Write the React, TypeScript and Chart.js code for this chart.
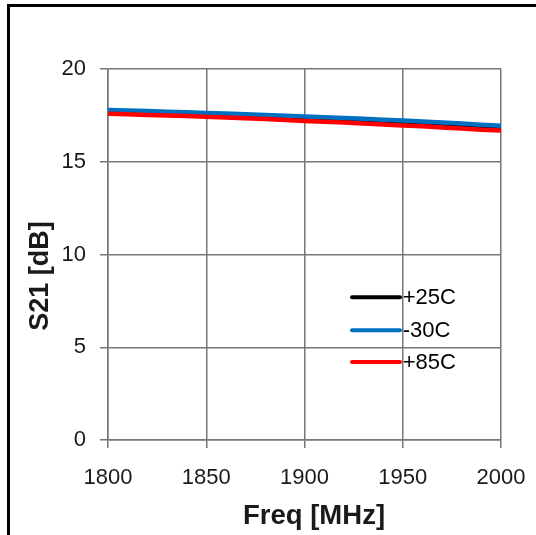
import React, { useEffect, useRef } from "react";
import { Chart, registerables } from "chart.js";

Chart.register(...registerables);

const freqs = [1800, 1810, 1820, 1830, 1840, 1850, 1860, 1870, 1880, 1890, 1900, 1910, 1920, 1930, 1940, 1950, 1960, 1970, 1980, 1990, 2000];
const s21_25C = [17.74, 17.71, 17.68, 17.65, 17.62, 17.58, 17.55, 17.51, 17.47, 17.43, 17.39, 17.36, 17.31, 17.27, 17.22, 17.17, 17.12, 17.06, 17.00, 16.94, 16.88];
const s21_m30C = [17.79, 17.76, 17.73, 17.70, 17.67, 17.63, 17.60, 17.56, 17.52, 17.48, 17.44, 17.40, 17.36, 17.32, 17.27, 17.22, 17.17, 17.11, 17.06, 17.00, 16.94];
const s21_85C = [17.59, 17.56, 17.52, 17.49, 17.46, 17.42, 17.39, 17.34, 17.30, 17.25, 17.20, 17.16, 17.11, 17.06, 17.01, 16.96, 16.91, 16.85, 16.79, 16.73, 16.68];
const seriesLabels = ["+25C", "-30C", "+85C"];
const seriesColors = ["#000000", "#0070C0", "#FF0000"];
const yTicks = [0, 5, 10, 15, 20];
const xTicks = [1800, 1850, 1900, 1950, 2000];
const xTitle = "Freq [MHz]";
const yTitle = "S21 [dB]";

const FONT = "'Liberation Sans', Arial, sans-serif";

const insideLegend = {
  id: "insideLegend",
  afterDraw(chart: any) {
    const { ctx, scales } = chart;
    const x0 = scales.x.getPixelForValue(1924.2);
    const x1 = scales.x.getPixelForValue(1948.6);
    const tx = scales.x.getPixelForValue(1950.0);
    const rows = [7.7, 5.91, 4.21];
    ctx.save();
    chart.data.datasets.forEach((ds: any, i: number) => {
      const y = scales.y.getPixelForValue(rows[i]);
      ctx.strokeStyle = ds.borderColor;
      ctx.lineWidth = 4;
      ctx.lineCap = "round";
      ctx.beginPath();
      ctx.moveTo(x0, y);
      ctx.lineTo(x1, y);
      ctx.stroke();
      ctx.fillStyle = "#000";
      ctx.font = `22px ${FONT}`;
      ctx.textBaseline = "middle";
      ctx.textAlign = "left";
      ctx.fillText(ds.label, tx, y + 1);
    });
    // axis titles
    ctx.fillStyle = "#1a1a1a";
    ctx.font = `bold 27.5px ${FONT}`;
    ctx.textAlign = "center";
    ctx.textBaseline = "alphabetic";
    ctx.fillText(xTitle, 314, 524);
    ctx.save();
    ctx.translate(40.5, 276);
    ctx.rotate(-Math.PI / 2);
    ctx.font = `bold 27px ${FONT}`;
    ctx.textBaseline = "middle";
    ctx.fillText(yTitle, 0, 0);
    ctx.restore();
    ctx.restore();
  },
};

export default function App() {
  const ref = useRef<HTMLCanvasElement | null>(null);
  useEffect(() => {
    if (!ref.current) return;
    const data = [s21_25C, s21_m30C, s21_85C];
    const chart = new Chart(ref.current, {
      type: "line",
      data: {
        datasets: data.map((vals, i) => ({
          label: seriesLabels[i],
          data: freqs.map((f, j) => ({ x: f, y: vals[j] })),
          borderColor: seriesColors[i],
          backgroundColor: seriesColors[i],
          borderWidth: 4.5,
          pointRadius: 0,
          tension: 0,
          order: 2 - i,
        })),
      },
      options: {
        animation: false,
        responsive: false,
        layout: { padding: { left: 22, right: 35, top: 69, bottom: 4 } },
        plugins: { legend: { display: false }, tooltip: { enabled: false } },
        scales: {
          x: {
            type: "linear",
            min: 1800,
            max: 2000,
            afterBuildTicks: (s: any) => { s.ticks = xTicks.map((v) => ({ value: v })); },
            afterFit: (s: any) => { s.height = 91; s.paddingLeft = 0; s.paddingRight = 0; },
            ticks: { color: "#1a1a1a", font: { size: 22, family: FONT }, padding: 17, callback: (v: any) => String(v) },
            grid: { color: "#777777", lineWidth: 1.5, tickLength: 8 },
            border: { color: "#777777", width: 1.5 },
            title: { display: false },
          },
          y: {
            min: 0,
            max: 20,
            afterBuildTicks: (s: any) => { s.ticks = yTicks.map((v) => ({ value: v })); },
            afterFit: (s: any) => { s.width = 86; s.paddingTop = 0; s.paddingBottom = 0; },
            ticks: { color: "#1a1a1a", font: { size: 22, family: FONT }, padding: 14 },
            grid: { color: "#777777", lineWidth: 1.5, tickLength: 8 },
            border: { color: "#777777", width: 1.5 },
            title: { display: false },
          },
        },
      },
      plugins: [insideLegend],
    } as any);
    return () => chart.destroy();
  }, []);
  return (
    <div style={{ position: "fixed", left: 0, top: 0, width: 536, height: 535, background: "#fff", overflow: "hidden" }}>
      <div style={{ position: "absolute", left: 7, top: 4, width: 600, height: 600, borderLeft: "3px solid #000", borderTop: "3px solid #000" }} />
      <canvas ref={ref} width={536} height={535} style={{ position: "absolute", left: 0, top: 0 }} />
    </div>
  );
}
